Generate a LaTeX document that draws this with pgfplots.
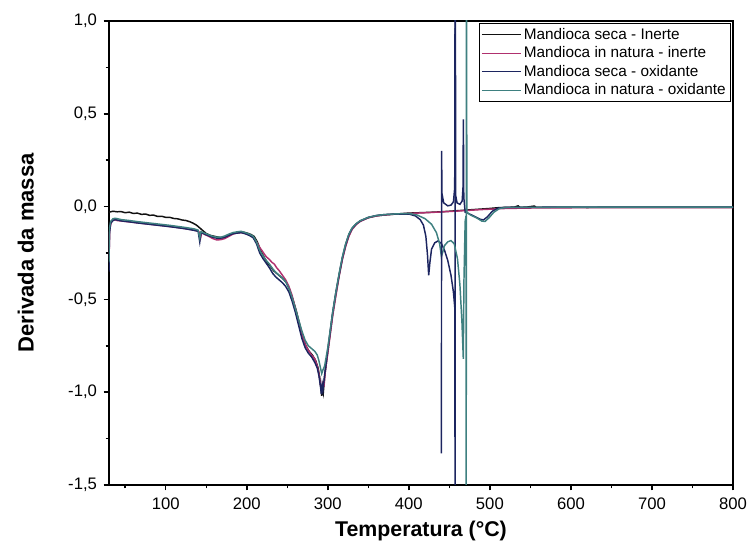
\documentclass[border=0pt]{standalone}
\usepackage{pgfplots}
\pgfplotsset{compat=1.18}
\usepackage{fontspec}
\setmainfont{Liberation Sans}
\usetikzlibrary{calc}
\definecolor{secainerte}{HTML}{111111}
\definecolor{natinerte}{HTML}{B0306E}
\definecolor{secaox}{HTML}{1C2560}
\definecolor{natox}{HTML}{3E8080}
\begin{document}
\begin{tikzpicture}
\begin{axis}[
  scale only axis, width=468pt, height=348pt,
  xmin=30, xmax=800, ymin=-1.5, ymax=1.0,
  xtick={100,200,...,800}, minor xtick={50,150,...,750},
  ytick={-1.5,-1,...,1}, minor ytick={-1.25,-0.75,...,0.75},
  tick align=outside, xtick pos=bottom, ytick pos=left,
  major tick length=4pt, minor tick length=2.5pt,
  axis line style={line width=1.1pt},
  every tick/.style={black, line width=1.1pt},
  /pgf/number format/assume math mode=true,
  ticklabel style={font=\fontsize{12.5}{14}\selectfont},
  xticklabel style={yshift=-2pt},
  yticklabel style={xshift=-1.5pt, /pgf/number format/.cd, fixed, fixed zerofill, precision=1, use comma},
  xlabel={Temperatura (°C)}, ylabel={Derivada da massa},
  label style={font=\fontsize{16}{19}\selectfont\bfseries},
  xlabel style={at={(rel axis cs:0.5,-0.1)}, anchor=center},
  ylabel style={at={(rel axis cs:-0.1335,0.5)}, anchor=center, font=\fontsize{16.5}{19}\selectfont\bfseries},
  legend style={at={(rel axis cs:1,1)}, anchor=north east, xshift=-1.5pt, yshift=-1.5pt,
    draw=black, line width=0.8pt, font=\fontsize{11.5}{12.8}\selectfont, inner sep=1.5pt},
  legend cell align=left,
  legend image code/.code={\draw[#1, line width=0.8pt] (0pt,0pt) -- (29pt,0pt);},
  every axis plot/.append style={line width=1.1pt},
]
\addplot[secainerte] coordinates {
(30,-0.03)(35,-0.025)(40,-0.028)(45,-0.027)(50,-0.033)(55,-0.03)(60,-0.037)(65,-0.035)(70,-0.042)(75,-0.04)(80,-0.047)(85,-0.046)(90,-0.053)(95,-0.052)(100,-0.058)(105,-0.058)(110,-0.064)(115,-0.066)(120,-0.072)(125,-0.075)(130,-0.082)(134,-0.09)(138,-0.1)(142,-0.115)(146,-0.13)(150,-0.145)(155,-0.155)(160,-0.16)(165,-0.165)(170,-0.168)(175,-0.162)(180,-0.15)(185,-0.142)(190,-0.14)(195,-0.137)(200,-0.142)(205,-0.15)(209,-0.16)(213,-0.19)(217,-0.235)(221,-0.27)(225,-0.3)(229,-0.32)(233,-0.345)(237,-0.36)(241,-0.375)(245,-0.39)(249,-0.41)(253,-0.45)(257,-0.5)(261,-0.56)(265,-0.63)(269,-0.7)(273,-0.75)(277,-0.78)(281,-0.8)(285,-0.83)(288,-0.87)(290,-0.92)(291.5,-0.98)(292.5,-1.02)(293.5,-0.97)(294.5,-1.0)(296,-0.92)(298,-0.85)(300,-0.78)(303,-0.68)(306,-0.58)(310,-0.47)(314,-0.37)(318,-0.28)(322,-0.21)(326,-0.155)(330,-0.12)(335,-0.095)(340,-0.078)(350,-0.06)(360,-0.05)(370,-0.045)(385,-0.04)(400,-0.035)(420,-0.032)(440,-0.028)(460,-0.022)(480,-0.016)(500,-0.01)(510,-0.006)(520,-0.004)(530,-0.003)(535,0.004)(537,-0.004)(545,-0.003)(555,0.003)(557,-0.004)(580,-0.004)(620,-0.005)(680,-0.004)(740,-0.004)(800,-0.004)
};
\addlegendentry{Mandioca seca - Inerte}
\addplot[natinerte] coordinates {
(30,-0.28)(31,-0.12)(33,-0.08)(36,-0.07)(40,-0.075)(50,-0.08)(60,-0.085)(70,-0.09)(80,-0.095)(90,-0.1)(100,-0.105)(110,-0.11)(120,-0.116)(130,-0.123)(138,-0.13)(141,-0.135)(143,-0.17)(144.5,-0.14)(148,-0.15)(153,-0.16)(158,-0.172)(163,-0.18)(168,-0.178)(173,-0.172)(178,-0.16)(183,-0.148)(188,-0.142)(193,-0.14)(198,-0.145)(203,-0.152)(208,-0.165)(212,-0.19)(216,-0.22)(220,-0.245)(224,-0.27)(228,-0.285)(231,-0.3)(234,-0.31)(237,-0.33)(240,-0.345)(244,-0.37)(248,-0.395)(252,-0.43)(256,-0.48)(260,-0.55)(264,-0.62)(268,-0.69)(272,-0.74)(276,-0.775)(280,-0.8)(284,-0.82)(287,-0.86)(289,-0.9)(291,-0.96)(292.5,-0.99)(294,-0.95)(295.5,-0.96)(297,-0.88)(300,-0.79)(303,-0.69)(306,-0.59)(310,-0.48)(314,-0.375)(318,-0.285)(322,-0.215)(326,-0.16)(330,-0.123)(335,-0.097)(340,-0.08)(350,-0.06)(360,-0.05)(370,-0.045)(385,-0.04)(400,-0.037)(430,-0.031)(460,-0.024)(490,-0.016)(520,-0.01)(560,-0.007)(620,-0.006)(700,-0.005)(800,-0.005)
};
\addlegendentry{Mandioca in natura - inerte}
\addplot[secaox] coordinates {
(30,-0.35)(30.5,-0.15)(32,-0.09)(35,-0.075)(38,-0.07)(45,-0.077)(55,-0.082)(65,-0.088)(75,-0.093)(85,-0.098)(95,-0.103)(105,-0.108)(115,-0.114)(125,-0.12)(135,-0.128)(140,-0.133)(142,-0.19)(143.5,-0.14)(148,-0.148)(153,-0.157)(158,-0.165)(163,-0.17)(168,-0.17)(173,-0.165)(178,-0.155)(183,-0.146)(188,-0.143)(193,-0.14)(198,-0.146)(203,-0.155)(208,-0.168)(212,-0.2)(216,-0.25)(220,-0.28)(224,-0.305)(228,-0.33)(232,-0.36)(236,-0.38)(240,-0.395)(244,-0.41)(248,-0.43)(252,-0.46)(256,-0.51)(260,-0.57)(264,-0.64)(268,-0.71)(272,-0.76)(276,-0.79)(280,-0.81)(284,-0.84)(287,-0.87)(289,-0.91)(291,-0.97)(292,-1.01)(293,-0.96)(294,-0.99)(296,-0.91)(298,-0.84)(300,-0.77)(303,-0.67)(306,-0.57)(310,-0.46)(314,-0.365)(318,-0.275)(322,-0.205)(326,-0.15)(330,-0.117)(335,-0.093)(340,-0.077)(350,-0.058)(360,-0.048)(370,-0.043)(385,-0.04)(400,-0.04)(408,-0.05)(414,-0.07)(418,-0.1)(421,-0.16)(423,-0.26)(424.5,-0.37)(426,-0.3)(428,-0.23)(432,-0.195)(436,-0.185)(440,-0.198)(444,-0.235)(448,-0.29)(452,-0.37)(455,-0.46)(456.8,-0.55)(457,-1.6)(457.3,1.6)(457.8,0.06)(459.5,0.02)(463,0.012)(465.8,0.03)(466.8,0.1)(467.3,0.47)(467.8,0.05)(469.5,-0.03)(475,-0.04)(482,-0.055)(488,-0.068)(492,-0.072)(497,-0.055)(503,-0.025)(510,-0.008)(520,-0.004)(600,-0.003)(700,-0.003)(800,-0.003)
};
\addlegendentry{Mandioca seca - oxidante}
\addplot[natox] coordinates {
(30,-0.3)(30.5,-0.12)(32,-0.08)(35,-0.065)(38,-0.063)(45,-0.07)(55,-0.075)(65,-0.081)(75,-0.086)(85,-0.091)(95,-0.096)(105,-0.101)(115,-0.107)(125,-0.113)(135,-0.12)(140,-0.127)(142,-0.17)(143.5,-0.135)(148,-0.143)(153,-0.152)(158,-0.16)(163,-0.165)(168,-0.165)(173,-0.158)(178,-0.148)(183,-0.14)(188,-0.136)(193,-0.133)(198,-0.14)(203,-0.148)(208,-0.16)(212,-0.19)(216,-0.235)(220,-0.265)(224,-0.29)(228,-0.31)(232,-0.335)(236,-0.355)(240,-0.37)(244,-0.385)(248,-0.405)(252,-0.44)(256,-0.49)(260,-0.55)(264,-0.61)(268,-0.67)(272,-0.72)(276,-0.75)(280,-0.765)(284,-0.78)(287,-0.8)(289,-0.83)(291,-0.87)(292.5,-0.9)(294,-0.88)(296,-0.86)(298,-0.81)(300,-0.76)(303,-0.665)(306,-0.57)(310,-0.46)(314,-0.36)(318,-0.27)(322,-0.2)(326,-0.148)(330,-0.115)(335,-0.092)(340,-0.076)(350,-0.058)(360,-0.048)(370,-0.043)(385,-0.039)(400,-0.037)(410,-0.045)(420,-0.065)(428,-0.095)(434,-0.14)(438,-0.2)(440.2,-0.27)(441.5,-0.25)(444,-0.21)(448,-0.19)(452,-0.183)(456,-0.2)(460,-0.28)(463,-0.42)(465.5,-0.62)(467.2,-0.82)(468,-0.4)(469.5,-0.08)(470.5,-0.05)(470.8,-1.6)(471.1,1.6)(471.6,-0.03)(476,-0.045)(484,-0.062)(490,-0.078)(494,-0.08)(499,-0.06)(505,-0.03)(512,-0.01)(520,-0.005)(600,-0.003)(700,-0.003)(800,-0.003)
};
\addlegendentry{Mandioca in natura - oxidante}
% spike near 440 and the loop joining it to the spike at 457
\addplot[secaox, forget plot] coordinates {
(440.2,-1.33)(440.4,0.3)(440.9,0.07)(443,0.02)(448,0.004)(452,0.008)(455,0.025)(456.6,0.1)(457.2,1.6)
};
\end{axis}
\pgfresetboundingbox
\path[use as bounding box] ($(current axis.south west)+(-81.75pt,-53.25pt)$) rectangle ($(current axis.north east)+(12pt,15.75pt)$);
\end{tikzpicture}
\end{document}
